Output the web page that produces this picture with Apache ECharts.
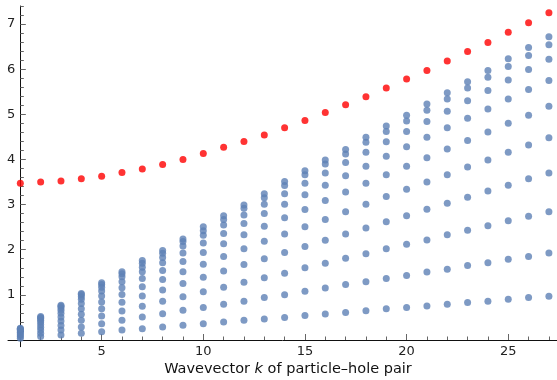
<!DOCTYPE html>
<html>
<head>
<meta charset="utf-8">
<script src="https://cdn.jsdelivr.net/npm/echarts@6/dist/echarts.min.js"></script>
<style>html,body{margin:0;padding:0;background:#fff;}#c{width:557px;height:380px;}</style>
</head>
<body>
<div id="c"></div>
<script>
// wavevector k of the particle-hole pair
const kValues = [1,2,3,4,5,6,7,8,9,10,11,12,13,14,15,16,17,18,19,20,21,22,23,24,25,26,27];
// collective mode (red)
const collectiveEnergy = [3.47,3.50,3.52,3.57,3.63,3.71,3.79,3.89,4.00,4.13,4.27,4.40,4.54,4.70,4.86,5.04,5.21,5.39,5.58,5.78,5.97,6.18,6.39,6.59,6.82,7.03,7.25];
// particle-hole energies (blue), one list per k
const phK1  = [0.04,0.075,0.11,0.14,0.17,0.20,0.22,0.24,0.25,0.26];
const phK2  = [0.075,0.15,0.22,0.285,0.345,0.40,0.44,0.48,0.50,0.52];
const phK3  = [0.11,0.22,0.32,0.42,0.51,0.59,0.66,0.71,0.75,0.77];
const phK4  = [0.15,0.29,0.44,0.57,0.69,0.81,0.90,0.96,1.01,1.03];
const phK5  = [0.18,0.36,0.53,0.69,0.84,0.975,1.085,1.17,1.23,1.27];
const phK6  = [0.22,0.435,0.64,0.835,1.01,1.16,1.29,1.40,1.47,1.51];
const phK7  = [0.25,0.51,0.75,0.975,1.18,1.36,1.51,1.61,1.70,1.76];
const phK8  = [0.29,0.58,0.86,1.11,1.34,1.54,1.71,1.83,1.92,1.98];
const phK9  = [0.325,0.66,0.96,1.25,1.51,1.74,1.93,2.08,2.18,2.24];
const phK10 = [0.36,0.72,1.07,1.39,1.68,1.94,2.15,2.32,2.42,2.51];
const phK11 = [0.40,0.79,1.17,1.53,1.85,2.13,2.36,2.55,2.67,2.75];
const phK12 = [0.435,0.86,1.28,1.67,2.02,2.33,2.58,2.77,2.92,2.99];
const phK13 = [0.465,0.94,1.38,1.80,2.19,2.52,2.80,3.01,3.15,3.24];
const phK14 = [0.50,1.00,1.48,1.94,2.35,2.71,3.01,3.24,3.42,3.51];
const phK15 = [0.54,1.08,1.60,2.07,2.51,2.89,3.22,3.47,3.66,3.75];
const phK16 = [0.576,1.15,1.70,2.21,2.67,3.09,3.43,3.70,3.90,3.99];
const phK17 = [0.61,1.23,1.81,2.35,2.84,3.28,3.64,3.93,4.12,4.22];
const phK18 = [0.65,1.29,1.91,2.48,3.01,3.47,3.85,4.16,4.38,4.49];
const phK19 = [0.69,1.36,2.02,2.62,3.18,3.66,4.07,4.39,4.62,4.74];
const phK20 = [0.72,1.43,2.12,2.75,3.34,3.85,4.28,4.62,4.85,4.98];
const phK21 = [0.753,1.506,2.215,2.895,3.50,4.04,4.49,4.84,5.09,5.23];
const phK22 = [0.79,1.57,2.33,3.03,3.66,4.23,4.70,5.07,5.34,5.48];
const phK23 = [0.83,1.65,2.43,3.16,3.83,4.42,4.91,5.30,5.58,5.72];
const phK24 = [0.86,1.71,2.53,3.30,3.99,4.61,5.12,5.53,5.82,5.97];
const phK25 = [0.90,1.79,2.64,3.43,4.16,4.80,5.34,5.76,6.06,6.23];
const phK26 = [0.94,1.85,2.74,3.57,4.32,4.98,5.55,5.99,6.30,6.48];
const phK27 = [0.97,1.93,2.84,3.70,4.48,5.18,5.75,6.22,6.54,6.72];
const phByK = [phK1,phK2,phK3,phK4,phK5,phK6,phK7,phK8,phK9,phK10,phK11,phK12,phK13,phK14,phK15,phK16,phK17,phK18,phK19,phK20,phK21,phK22,phK23,phK24,phK25,phK26,phK27];
// tick labels
const xMajorTicks = [5,10,15,20,25];
const xMinorTicks = [1,2,3,4,6,7,8,9,11,12,13,14,16,17,18,19,21,22,23,24,26,27];
const yMajorTicks = [1,2,3,4,5,6,7];
const yMinorTicks = [0.2,0.4,0.6,0.8,1.2,1.4,1.6,1.8,2.2,2.4,2.6,2.8,3.2,3.4,3.6,3.8,4.2,4.4,4.6,4.8,5.2,5.4,5.6,5.8,6.2,6.4,6.6,6.8,7.2,7.4];
const xTitle = 'Wavevector {i|k} of particle\u2013hole pair';

const phPoints = [];
phByK.forEach((arr, i) => arr.forEach(v => phPoints.push([kValues[i], v])));
const redPoints = kValues.map((k, i) => [k, collectiveEnergy[i]]);

// geometry (px per unit)
const W = 557, H = 380;
const PXX = 20.33, PXY = 45.14;
const X0 = 0;          // pixel of k = 0
const Y0 = 340;        // pixel of E = 0
const xMaxA = (W - X0) / PXX;
const yMaxA = Y0 / PXY;

const font = 'DejaVu Sans';
const tickColor = '#666';
const labelColor = '#222';
const lineColor = '#111';

const chart = echarts.init(document.getElementById('c'), null, {renderer: 'canvas'});
chart.setOption({
  animation: false,
  backgroundColor: '#fff',
  grid: [
    {left: X0, right: 0, top: 0, bottom: H - Y0},
    {left: X0 + PXX, right: 0, top: 0, bottom: H - Y0},
    {left: 8, right: 0, top: 6, bottom: H - 346.7}
  ],
  xAxis: [
    {gridIndex: 0, type: 'value', min: 0, max: xMaxA, position: 'bottom',
     axisLine: {show: false}, splitLine: {show: false},
     axisTick: {show: true, inside: true, length: 6, customValues: xMajorTicks, lineStyle: {color: tickColor}},
     axisLabel: {show: true, customValues: xMajorTicks, margin: 5, color: labelColor, fontFamily: font, fontSize: 13}},
    {gridIndex: 0, type: 'value', min: 0, max: xMaxA, position: 'bottom',
     axisLine: {show: false}, splitLine: {show: false},
     axisTick: {show: true, inside: true, length: 3.5, customValues: xMinorTicks, lineStyle: {color: tickColor}},
     axisLabel: {show: false}},
    {gridIndex: 1, type: 'value', min: 1, max: xMaxA, show: false},
    {gridIndex: 2, type: 'value', min: -(PXX - 8) / PXX, max: (W - PXX) / PXX,
     axisLine: {show: true, onZero: true, lineStyle: {color: lineColor, width: 1}},
     axisTick: {show: false}, axisLabel: {show: false}, splitLine: {show: false}}
  ],
  yAxis: [
    {gridIndex: 0, type: 'value', min: 0, max: yMaxA, show: false},
    {gridIndex: 1, type: 'value', min: 0, max: yMaxA, position: 'left',
     axisLine: {show: false}, splitLine: {show: false},
     axisTick: {show: true, inside: true, length: 5.5, customValues: yMajorTicks, lineStyle: {color: tickColor}},
     axisLabel: {show: true, customValues: yMajorTicks, margin: 5, color: labelColor, fontFamily: font, fontSize: 13}},
    {gridIndex: 1, type: 'value', min: 0, max: yMaxA, position: 'left',
     axisLine: {show: false}, splitLine: {show: false},
     axisTick: {show: true, inside: true, length: 3.5, customValues: yMinorTicks, lineStyle: {color: tickColor}},
     axisLabel: {show: false}},
    {gridIndex: 2, type: 'value', min: -(346.7 - Y0) / PXY, max: (Y0 - 6) / PXY,
     axisLine: {show: true, onZero: true, lineStyle: {color: lineColor, width: 1}},
     axisTick: {show: false}, axisLabel: {show: false}, splitLine: {show: false}}
  ],
  series: [
    {type: 'scatter', xAxisIndex: 0, yAxisIndex: 0, data: phPoints, symbol: 'circle', symbolSize: 7,
     itemStyle: {color: '#5E81B5'}, z: 3},
    {type: 'scatter', xAxisIndex: 0, yAxisIndex: 0, data: redPoints, symbol: 'circle', symbolSize: 7,
     itemStyle: {color: '#FF0000'}, z: 4}
  ],
  graphic: [{
    type: 'text', x: 288, y: 369, z: 10,
    style: {text: xTitle, align: 'center', verticalAlign: 'middle', fill: '#111',
            fontFamily: font, fontSize: 14.5,
            rich: {i: {fontStyle: 'italic', fontFamily: font, fontSize: 14.5, fill: '#111'}}}
  }]
});
</script>
</body>
</html>
